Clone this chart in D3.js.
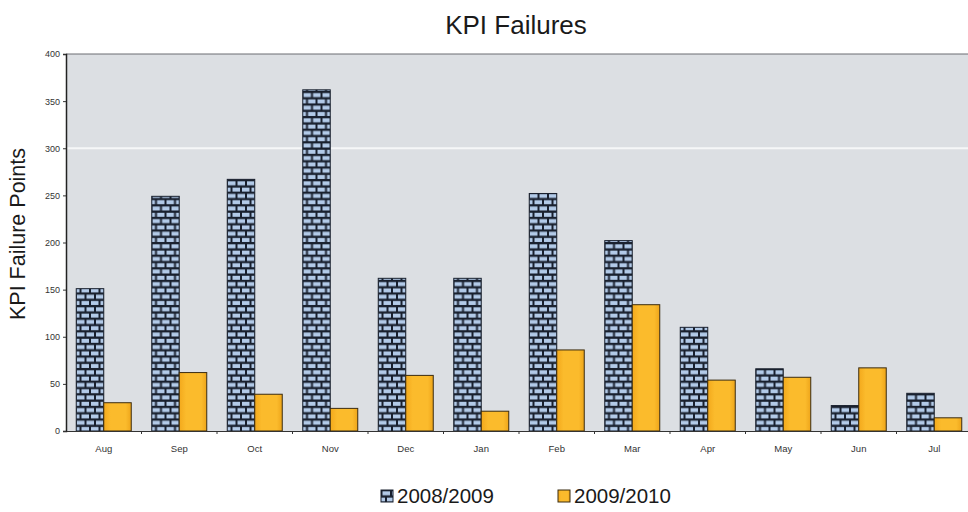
<!DOCTYPE html>
<html>
<head>
<meta charset="utf-8">
<script src="https://cdn.jsdelivr.net/npm/d3@7"></script>
<style>
  body { margin: 0; background: #fff; }
  svg text { font-family: "Liberation Sans", Arial, sans-serif; }
</style>
</head>
<body>
<div id="chart"></div>
<script>
// data
const months = ["Aug", "Sep", "Oct", "Nov", "Dec", "Jan", "Feb", "Mar", "Apr", "May", "Jun", "Jul"];
const seriesNames = ["2008/2009", "2009/2010"];
const values0809 = [151, 249, 267, 362, 162, 162, 252, 202, 110, 66, 27, 40];
const values0910 = [30, 62, 39, 24, 59, 21, 86, 134, 54, 57, 67, 14];
const yTicks = [0, 50, 100, 150, 200, 250, 300, 350, 400];

const W = 968, H = 512;
const margin = {top: 54, right: -4, bottom: 81, left: 66};
const width = W - margin.left - margin.right;
const height = H - margin.top - margin.bottom;

const svg = d3.select("#chart").append("svg")
    .attr("width", W)
    .attr("height", H);

// brick pattern for the first series
const defs = svg.append("defs");
const pat = defs.append("pattern")
    .attr("id", "bricks")
    .attr("patternUnits", "userSpaceOnUse")
    .attr("width", 19)
    .attr("height", 12.6)
    .attr("x", 0).attr("y", 0);
pat.append("rect").attr("width", 19).attr("height", 12.6).attr("fill", "#19202e");
const bc = "#b2cae8";
// row one
pat.append("rect").attr("x", 1.5).attr("y", 1.3).attr("width", 7.5).attr("height", 4).attr("fill", bc);
pat.append("rect").attr("x", 11).attr("y", 1.3).attr("width", 7.5).attr("height", 4).attr("fill", bc);
// row two, offset
pat.append("rect").attr("x", 6).attr("y", 7.6).attr("width", 7.5).attr("height", 4).attr("fill", bc);
pat.append("rect").attr("x", 15.5).attr("y", 7.6).attr("width", 3.5).attr("height", 4).attr("fill", bc);
pat.append("rect").attr("x", 0).attr("y", 7.6).attr("width", 4).attr("height", 4).attr("fill", bc);

const orangeGrad = defs.append("linearGradient").attr("id", "orange")
    .attr("x1", "0%").attr("x2", "100%");
orangeGrad.append("stop").attr("offset", "0%").attr("stop-color", "#f3a91c");
orangeGrad.append("stop").attr("offset", "25%").attr("stop-color", "#fbbb2c");
orangeGrad.append("stop").attr("offset", "80%").attr("stop-color", "#fbbb2c");
orangeGrad.append("stop").attr("offset", "100%").attr("stop-color", "#eea51a");

const g = svg.append("g")
    .attr("transform", `translate(${margin.left},${margin.top})`);

// scales
const x0 = d3.scaleBand().domain(months).range([0, width]).paddingInner(0).paddingOuter(0);
const x1 = d3.scaleBand().domain(seriesNames).range([10.25, x0.bandwidth() - 10.25]);
const y = d3.scaleLinear().domain([0, 400]).range([height, 0]);

// plot background
g.append("rect")
    .attr("width", width).attr("height", height)
    .attr("fill", "#dcdfe3");

// faint grid line at 300 (visible in the picture)
g.append("line")
    .attr("x1", 0).attr("x2", width)
    .attr("y1", y(300)).attr("y2", y(300))
    .attr("stroke", "#f6f7f8").attr("stroke-width", 2);

// top border
g.append("line")
    .attr("x1", 0).attr("x2", width)
    .attr("y1", 0).attr("y2", 0)
    .attr("stroke", "#6a6d72").attr("stroke-width", 1);

// bars
const rows = months.map((m, i) => ({month: m, vals: [values0809[i], values0910[i]]}));
const groups = g.selectAll(".grp").data(rows).enter().append("g")
    .attr("class", "grp")
    .attr("transform", d => `translate(${x0(d.month)},0)`);

groups.selectAll("rect")
    .data(d => d.vals.map((v, k) => ({key: seriesNames[k], v: v})))
    .enter().append("rect")
    .attr("x", d => x1(d.key))
    .attr("y", d => y(d.v))
    .attr("width", x1.bandwidth())
    .attr("height", d => height - y(d.v))
    .attr("fill", d => d.key === seriesNames[0] ? "url(#bricks)" : "url(#orange)")
    .attr("stroke", d => d.key === seriesNames[0] ? "#19202e" : "#3b2c10")
    .attr("stroke-width", 1);

// y axis
const yAxis = d3.axisLeft(y).tickValues(yTicks).tickSize(3).tickPadding(3);
const ya = g.append("g").attr("class", "y-axis").call(yAxis);
ya.select(".domain").attr("stroke", "#222").attr("stroke-width", 1.5);
ya.selectAll(".tick line").attr("stroke", "#333");
ya.selectAll(".tick text").attr("font-size", 9).attr("fill", "#333");

// x axis
const xAxis = d3.axisBottom(x0).tickSize(0).tickPadding(14);
const xa = g.append("g").attr("class", "x-axis")
    .attr("transform", `translate(0,${height})`)
    .call(xAxis);
xa.select(".domain").attr("stroke", "#333");
xa.selectAll(".tick text").attr("font-size", 9.5).attr("fill", "#333");
// small ticks between categories
xa.selectAll(".sep").data(months.slice(1)).enter().append("line")
    .attr("class", "sep")
    .attr("x1", d => x0(d)).attr("x2", d => x0(d))
    .attr("y1", 0).attr("y2", 3)
    .attr("stroke", "#333");

// title
svg.append("text")
    .attr("x", 516).attr("y", 34)
    .attr("text-anchor", "middle")
    .attr("font-size", 26)
    .attr("fill", "#1a1a1a")
    .text("KPI Failures");

// y label
svg.append("text")
    .attr("transform", `translate(25,234) rotate(-90)`)
    .attr("text-anchor", "middle")
    .attr("font-size", 21.5)
    .attr("fill", "#1a1a1a")
    .text("KPI Failure Points");

// legend
const legendX = [381, 558];
const lg = svg.append("g").attr("class", "legend");
seriesNames.forEach((name, k) => {
    const item = lg.append("g").attr("transform", `translate(${legendX[k]},490)`);
    item.append("rect")
        .attr("width", 12).attr("height", 12)
        .attr("fill", k === 0 ? "url(#bricks)" : "url(#orange)")
        .attr("stroke", k === 0 ? "#19202e" : "#3b2c10");
    item.append("text")
        .attr("x", 16).attr("y", 13)
        .attr("font-size", 20.5)
        .attr("fill", "#1a1a1a")
        .text(name);
});
</script>
</body>
</html>
